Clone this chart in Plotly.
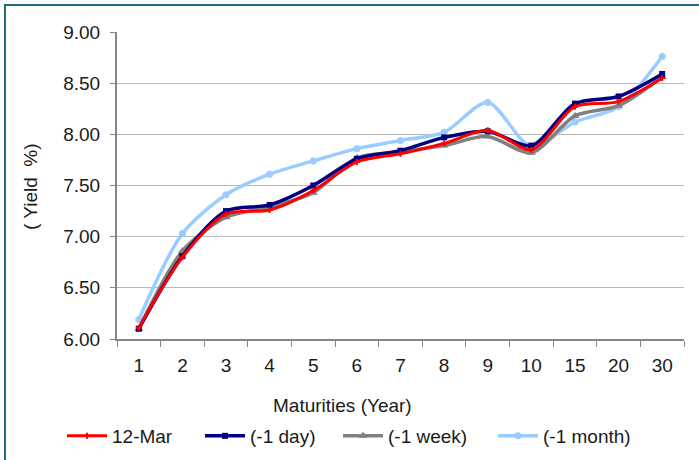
import plotly.graph_objects as go

maturities = ["1", "2", "3", "4", "5", "6", "7", "8", "9", "10", "15", "20", "30"]
mar12 = [6.11, 6.80, 7.22, 7.26, 7.45, 7.73, 7.81, 7.91, 8.04, 7.85, 8.27, 8.32, 8.55]
day1 = [6.10, 6.81, 7.25, 7.31, 7.50, 7.76, 7.84, 7.97, 8.03, 7.89, 8.30, 8.37, 8.59]
week1 = [6.10, 6.86, 7.19, 7.29, 7.43, 7.77, 7.83, 7.89, 7.98, 7.82, 8.18, 8.28, 8.56]
month1 = [6.19, 7.03, 7.41, 7.61, 7.74, 7.86, 7.94, 8.02, 8.31, 7.88, 8.12, 8.27, 8.76]
series_names = ["12-Mar", "(-1 day)", "(-1 week)", "(-1 month)"]

FONT = "Liberation Sans, Arial, sans-serif"
FS = 19

W, H = 699, 460
L, R, T, B = 117, 15, 32, 121
pw, ph = W - L - R, H - T - B

def px_x(x):
    return (x - L) / pw

def px_y(y):
    return (H - B - y) / ph

fig = go.Figure()
specs = [
    (month1, series_names[3], "#99ccff", "circle", 7, "legend4", 3.5),
    (week1, series_names[2], "#808080", "triangle-up", 8, "legend3", 3.5),
    (day1, series_names[1], "#000080", "square", 6, "legend2", 3.5),
    (mar12, series_names[0], "#ff0000", "cross", 5, "legend", 3),
]
for vals, name, color, sym, ms, lg, lw in specs:
    fig.add_trace(go.Scatter(
        x=maturities, y=vals, name=name, mode="lines+markers", legend=lg,
        line=dict(color=color, width=lw, shape="spline", smoothing=0.8),
        marker=dict(color=color, symbol=sym, size=ms),
    ))

def leg(xpx):
    return dict(orientation="h", x=px_x(xpx), y=px_y(436), xanchor="left",
                yanchor="middle", font=dict(size=FS, family=FONT),
                itemwidth=40, bgcolor="rgba(0,0,0,0)")

fig.update_layout(
    width=W, height=H,
    margin=dict(l=L, r=R, t=T, b=B, autoexpand=False),
    paper_bgcolor="white", plot_bgcolor="white",
    font=dict(family=FONT, size=FS, color="#1a1a1a"),
    showlegend=True,
    legend=leg(62),
    legend2=leg(200),
    legend3=leg(338),
    legend4=leg(493),
    xaxis=dict(
        type="category", range=[-0.5, len(maturities) - 0.5], autorange=False,
        showline=True, linecolor="#868686", linewidth=2,
        ticks="outside", tickson="boundaries", ticklen=6, tickcolor="#868686",
        tickwidth=1, showgrid=False, ticklabelstandoff=8, automargin=False,
        tickfont=dict(size=FS, family=FONT),
    ),
    yaxis=dict(
        range=[6, 9], tickvals=[6, 6.5, 7, 7.5, 8, 8.5, 9], tickformat=".2f",
        showline=True, linecolor="#868686", linewidth=2,
        ticks="outside", ticklen=5, tickcolor="#868686",
        showgrid=True, gridcolor="#b8b8b8", gridwidth=1, automargin=False,
        tickfont=dict(size=FS, family=FONT), ticklabelstandoff=6,
        zeroline=False,
    ),
    annotations=[
        dict(text="Maturities (Year)", xref="paper", yref="paper",
             x=px_x(342), y=px_y(405), xanchor="center", yanchor="middle",
             showarrow=False, font=dict(size=FS, family=FONT)),
        dict(text="( Yield  %)", xref="paper", yref="paper", textangle=-90,
             x=px_x(30), y=px_y(187), xanchor="center", yanchor="middle",
             showarrow=False, font=dict(size=FS, family=FONT)),
    ],
    shapes=[
        dict(type="line", xref="paper", yref="paper", x0=px_x(5), x1=px_x(5),
             y0=px_y(5), y1=px_y(470), line=dict(color="#1f6e78", width=2)),
        dict(type="line", xref="paper", yref="paper", x0=px_x(4), x1=px_x(710),
             y0=px_y(5), y1=px_y(5), line=dict(color="#1f6e78", width=2)),
    ],
)

fig.write_html("out.html", config={"displayModeBar": False},
               post_script="document.body.style.margin='0';")
